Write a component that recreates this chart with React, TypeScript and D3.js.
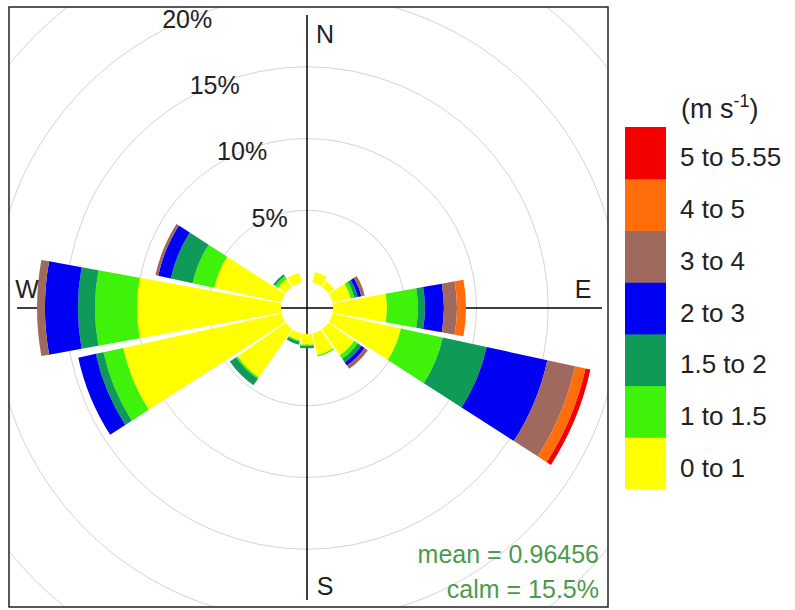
import React from "react";
import * as d3 from "d3";

// Compass bearings of the 16 wind sectors (degrees clockwise from north)
const directions = [0, 22.5, 45, 67.5, 90, 112.5, 135, 157.5, 180, 202.5, 225, 247.5, 270, 292.5, 315, 337.5];

// Speed bands (m/s) and their colours
const speedBins = ["0 to 1", "1 to 1.5", "1.5 to 2", "2 to 3", "3 to 4", "4 to 5", "5 to 5.55"];
const binColours = ["#ffff00", "#3ff20a", "#0f9a58", "#0000f2", "#a0695e", "#ff6e0a", "#f50000"];

// Frequency (%) of each speed band per sector, N → NNW
const freqBand0 = [0, 0.75, 0.5, 1.3, 3.76, 4.88, 2.2, 1.55, 0.75, 0.5, 4.08, 11.3, 10.03, 4.8, 0.65, 0.7];
const freqBand1 = [0, 0, 0, 0.26, 2.16, 2.99, 0.3, 0.1, 0.1, 0.1, 0.12, 1.4, 2.93, 1.54, 0.25, 0];
const freqBand2 = [0, 0, 0, 0.25, 0.49, 3.13, 0.3, 0, 0.15, 0.2, 0.54, 0.55, 1.19, 1.56, 0.15, 0];
const freqBand3 = [0, 0, 0, 0.25, 1.32, 4.33, 0.27, 0, 0, 0, 0, 1.25, 2.3, 0.9, 0, 0];
const freqBand4 = [0, 0, 0, 0.24, 0.91, 1.97, 0.28, 0, 0, 0, 0, 0, 0.55, 0.2, 0, 0];
const freqBand5 = [0, 0, 0, 0, 0.63, 0.75, 0, 0, 0, 0, 0, 0, 0, 0, 0, 0];
const freqBand6 = [0, 0, 0, 0, 0, 0.35, 0, 0, 0, 0, 0, 0, 0, 0, 0, 0];

const ringValues = [5, 10, 15, 20, 25];
const ringLabels = ["5%", "10%", "15%", "20%"];
const compassLabels = ["N", "E", "S", "W"];

const meanText = "mean = 0.96456";
const calmText = "calm = 15.5%";
const legendUnits = "(m s";

const FONT = "'Liberation Sans', Arial, Helvetica, sans-serif";

export default function App() {
  const width = 795;
  const height = 610;
  const cx = 307;
  const cy = 308;
  const panel = { x0: 9, y0: 7, x1: 608, y1: 607 };
  const sectorHalf = 10.25; // half the angular width of a wedge, degrees

  const bands = [freqBand0, freqBand1, freqBand2, freqBand3, freqBand4, freqBand5, freqBand6];
  const rows = directions.map((dir, i) => {
    const row: Record<string, number> = { dir };
    speedBins.forEach((b, k) => (row[b] = bands[k][i]));
    return row;
  });
  const stacked = d3.stack<Record<string, number>>().keys(speedBins)(rows);

  // radial scale: calm hole at the centre, then linear in percent
  const r = d3.scaleLinear().domain([0, 25]).range([26, 26 + 25 * 14.35]);
  const rad = (deg: number) => (deg * Math.PI) / 180;
  const arc = d3.arc<any>();

  const labelBearing = rad(-22.5);

  // legend geometry
  const legX = 625;
  const legW = 41;
  const legTop = 127;
  const legBottom = 489;
  const legH = (legBottom - legTop) / speedBins.length;

  return (
    <svg
      width={width}
      height={height}
      style={{ position: "absolute", left: 0, top: 0, background: "#fff" }}
      fontFamily={FONT}
    >
      <defs>
        <clipPath id="panel-clip">
          <rect x={panel.x0} y={panel.y0} width={panel.x1 - panel.x0} height={panel.y1 - panel.y0} />
        </clipPath>
      </defs>
      <rect width={width} height={height} fill="#fff" />

      {/* grid rings */}
      <g clipPath="url(#panel-clip)">
        {ringValues.map((v) => (
          <circle key={v} cx={cx} cy={cy} r={r(v)} fill="none" stroke="#d4d4d4" strokeWidth={1} />
        ))}
      </g>

      {/* compass axes */}
      <line x1={cx} x2={cx} y1={15} y2={600} stroke="#000" strokeWidth={1.5} />
      <line x1={17} x2={602} y1={cy} y2={cy} stroke="#000" strokeWidth={1.5} />

      {/* wedges */}
      <g transform={`translate(${cx},${cy})`}>
        {stacked.map((series, k) =>
          series.map((d, i) => {
            if (d[1] - d[0] <= 0) return null;
            const dir = directions[i];
            const path = arc({
              innerRadius: r(d[0]),
              outerRadius: r(d[1]),
              startAngle: rad(dir - sectorHalf),
              endAngle: rad(dir + sectorHalf),
            });
            return <path key={`${k}-${i}`} d={path || ""} fill={binColours[k]} />;
          })
        )}
      </g>

      {/* ring labels */}
      {ringLabels.map((lab, i) => {
        const rr = r(ringValues[i]);
        return (
          <text
            key={lab}
            x={cx + rr * Math.sin(labelBearing)}
            y={cy - rr * Math.cos(labelBearing)}
            textAnchor="middle"
            dominantBaseline="central"
            fontSize={25}
            fill="#222"
          >
            {lab}
          </text>
        );
      })}

      {/* compass letters */}
      <text x={325} y={43} textAnchor="middle" fontSize={25} fill="#222">{compassLabels[0]}</text>
      <text x={583} y={298} textAnchor="middle" fontSize={25} fill="#222">{compassLabels[1]}</text>
      <text x={325} y={595} textAnchor="middle" fontSize={25} fill="#222">{compassLabels[2]}</text>
      <text x={27} y={298} textAnchor="middle" fontSize={25} fill="#222">{compassLabels[3]}</text>

      {/* summary statistics */}
      <text x={599} y={563} textAnchor="end" fontSize={25} fill="#4c9a4c">{meanText}</text>
      <text x={599} y={598} textAnchor="end" fontSize={25} fill="#4c9a4c">{calmText}</text>

      {/* panel border */}
      <rect
        x={panel.x0}
        y={panel.y0}
        width={panel.x1 - panel.x0}
        height={panel.y1 - panel.y0}
        fill="none"
        stroke="#222"
        strokeWidth={1.5}
      />

      {/* legend */}
      <text x={681} y={118} fontSize={27} fill="#222">
        {legendUnits}
        <tspan dy={-11} fontSize={18}>-1</tspan>
        <tspan dy={11}>)</tspan>
      </text>
      {speedBins.map((b, k) => {
        const y = legBottom - (k + 1) * legH;
        return (
          <g key={b}>
            <rect x={legX} y={y} width={legW} height={legH + 0.5} fill={binColours[k]} />
            <text x={680} y={y + legH / 2 + 13.5} fontSize={26} fill="#222">
              {b}
            </text>
          </g>
        );
      })}
    </svg>
  );
}
